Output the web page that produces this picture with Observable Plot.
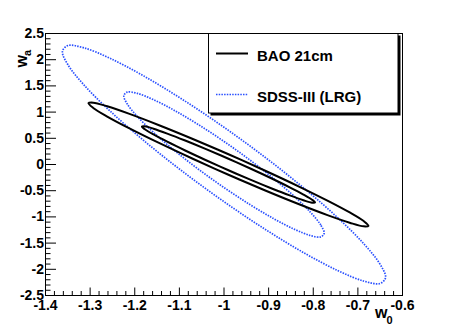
<!DOCTYPE html>
<html><head><meta charset="utf-8">
<script src="https://cdn.jsdelivr.net/npm/d3@7"></script>
<script src="https://cdn.jsdelivr.net/npm/@observablehq/plot@0.6"></script>
<style>
html,body{margin:0;padding:0;background:#fff;}
#chart svg{display:block;}
</style></head><body><div id="chart"></div>
<script>
// Tick values and labels
const xMajor = [-1.4,-1.3,-1.2,-1.1,-1.0,-0.9,-0.8,-0.7,-0.6];
const xTickLabels = ["-1.4","-1.3","-1.2","-1.1","-1","-0.9","-0.8","-0.7","-0.6"];
const yMajor = [2.5,2,1.5,1,0.5,0,-0.5,-1,-1.5,-2,-2.5];
const yTickLabels = ["2.5","2","1.5","1","0.5","0","-0.5","-1","-1.5","-2","-2.5"];
const xTitle = ["w","0"];
const yTitle = ["w","a"];
const seriesNames = ["BAO 21cm","SDSS-III (LRG)"];

// Contours: [w0, wa]
const bao2 = [[-0.6763,-1.170],[-0.6870,-1.0796],[-0.7183,-0.9157],[-0.7682,-0.6894],[-0.8331,-0.4161],[-0.9088,-0.1144],[-0.99,0.195],[-1.0712,0.4912],[-1.1469,0.7539],[-1.2118,0.9652],[-1.2617,1.1107],[-1.2930,1.1806],
[-1.3037,1.170],[-1.2930,1.0796],[-1.2617,0.9157],[-1.2118,0.6894],[-1.1469,0.4161],[-1.0712,0.1144],[-0.99,-0.195],[-0.9088,-0.4912],[-0.8331,-0.7539],[-0.7682,-0.9652],[-0.7183,-1.1107],[-0.6870,-1.1806]];
const bao1 = [[-0.796,-0.725],[-0.8026,-0.6718],[-0.822,-0.5729],[-0.8528,-0.4348],[-0.893,-0.2672],[-0.9398,-0.0814],[-0.99,0.11],[-1.0402,0.2938],[-1.087,0.4578],[-1.1272,0.5904],[-1.158,0.6829],[-1.1774,0.7288],
[-1.184,0.725],[-1.1774,0.6718],[-1.158,0.5729],[-1.1272,0.4348],[-1.087,0.2672],[-1.0402,0.0814],[-0.99,-0.11],[-0.9398,-0.2938],[-0.893,-0.4578],[-0.8528,-0.5904],[-0.822,-0.6829],[-0.8026,-0.7288]];
const sdss1 = [[-0.7756,-1.313],[-0.7832,-1.1543],[-0.8057,-0.9171],[-0.8413,-0.6173],[-0.8878,-0.2755],[-0.9419,0.0852],[-1,0.44],[-1.0581,0.7648],[-1.1122,1.0375],[-1.1587,1.2395],[-1.1943,1.3571],[-1.2168,1.3821],
[-1.2244,1.313],[-1.2168,1.1543],[-1.1943,0.9171],[-1.1587,0.6173],[-1.1122,0.2755],[-1.0581,-0.0852],[-1,-0.44],[-0.9419,-0.7648],[-0.8878,-1.0375],[-0.8413,-1.2395],[-0.8057,-1.3571],[-0.7832,-1.3821]];
const sdss2 = [[-0.638,-2.16],[-0.6503,-1.9026],[-0.6865,-1.5156],[-0.744,-1.0253],[-0.819,-0.4651],[-0.9063,0.1268],[-1,0.71],[-1.0937,1.2448],[-1.181,1.6949],[-1.256,2.0293],[-1.3135,2.2256],[-1.3497,2.27],
[-1.362,2.16],[-1.3497,1.9026],[-1.3135,1.5156],[-1.256,1.0253],[-1.181,0.4651],[-1.0937,-0.1268],[-1,-0.71],[-0.9063,-1.2448],[-0.819,-1.6949],[-0.744,-2.0293],[-0.6865,-2.2256],[-0.6503,-2.27]];

const toRows = (pts, id) => pts.map(([x, y]) => ({x, y, id}));
const blueRows = [...toRows(sdss2, "sdss2"), ...toRows(sdss1, "sdss1")];
const blackRows = [...toRows(bao2, "bao2"), ...toRows(bao1, "bao1")];

const xMinor = d3.range(-1.4, -0.6 + 1e-9, 0.02).filter(v => Math.abs(v*10 - Math.round(v*10)) > 1e-6);
const yMinor = d3.range(-2.5, 2.5 + 1e-9, 0.1).filter(v => Math.abs(v*2 - Math.round(v*2)) > 1e-6);

const W = 457, H = 328, ML = 45, MR = 55, MT = 33, MB = 33;
const FW = W - ML - MR, FH = H - MT - MB;
const font = "Liberation Sans, Arial, Helvetica, sans-serif";
const BLUE = "#2a50ff";
const DOTS = "1.5,1.2";

const chart = Plot.plot({
  width: W, height: H,
  marginLeft: ML, marginRight: MR, marginTop: MT, marginBottom: MB,
  style: {fontFamily: font, background: "white", overflow: "visible"},
  x: {domain: [-1.4, -0.6], axis: null},
  y: {domain: [-2.5, 2.5], axis: null},
  marks: [
    Plot.line(blueRows, {x: "x", y: "y", z: "id", curve: "catmull-rom-closed", stroke: BLUE, strokeWidth: 1.7, strokeDasharray: DOTS, strokeLinecap: "butt"}),
    Plot.line(blackRows, {x: "x", y: "y", z: "id", curve: "catmull-rom-closed", stroke: "black", strokeWidth: 2}),
    Plot.ruleX(xMajor, {x: d => d, insetTop: FH - 7.5, stroke: "black"}),
    Plot.ruleX(xMinor, {x: d => d, insetTop: FH - 4, stroke: "black"}),
    Plot.ruleY(yMajor, {y: d => d, insetRight: FW - 11, stroke: "black"}),
    Plot.ruleY(yMinor, {y: d => d, insetRight: FW - 5.5, stroke: "black"}),
    Plot.frame({stroke: "black", strokeWidth: 1}),
    Plot.text(xMajor, {x: d => d, frameAnchor: "bottom", text: (d, i) => xTickLabels[i], lineAnchor: "top", dy: 5, fontSize: 14, fontWeight: "bold", fill: "black"}),
    Plot.text(yMajor, {y: d => d, frameAnchor: "left", text: (d, i) => yTickLabels[i], textAnchor: "end", dx: -1.5, fontSize: 14, fontWeight: "bold", fill: "black"}),
    Plot.text([xTitle[0]], {frameAnchor: "bottom-right", text: d => d, textAnchor: "start", lineAnchor: "bottom", dx: -27.5, dy: 22, fontSize: 16, fontWeight: "bold", fill: "black"}),
    Plot.text([xTitle[1]], {frameAnchor: "bottom-right", text: d => d, textAnchor: "start", lineAnchor: "bottom", dx: -16, dy: 28, fontSize: 11, fontWeight: "bold", fill: "black"}),
    Plot.text([yTitle[0]], {frameAnchor: "top-left", text: d => d, textAnchor: "start", lineAnchor: "bottom", rotate: -90, dx: -19, dy: 34, fontSize: 16, fontWeight: "bold", fill: "black"}),
    Plot.text([yTitle[1]], {frameAnchor: "top-left", text: d => d, textAnchor: "start", lineAnchor: "bottom", rotate: -90, dx: -14.5, dy: 22.5, fontSize: 11, fontWeight: "bold", fill: "black"})
  ]
});

document.getElementById("chart").appendChild(chart);

// Legend box (ROOT TLegend style with shadow)
const svg = d3.select(chart);
const lg = svg.append("g").attr("text-anchor", "start");
lg.append("rect").attr("x", 210.5).attr("y", 35.5).attr("width", 190).attr("height", 80).attr("fill", "black");
lg.append("rect").attr("x", 208.5).attr("y", 33.5).attr("width", 189.5).attr("height", 79.5).attr("fill", "white").attr("stroke", "black").attr("stroke-width", 1);
lg.append("line").attr("x1", 216).attr("x2", 248).attr("y1", 53.5).attr("y2", 53.5).attr("stroke", "black").attr("stroke-width", 2);
lg.append("line").attr("x1", 216).attr("x2", 248).attr("y1", 94.5).attr("y2", 94.5).attr("stroke", BLUE).attr("stroke-width", 1.3).attr("stroke-dasharray", DOTS);
lg.append("text").attr("x", 257).attr("y", 60.5).attr("text-anchor", "start").attr("font-family", font).attr("font-weight", "bold").attr("font-size", 15).attr("fill", "black").text(seriesNames[0]);
lg.append("text").attr("x", 257).attr("y", 102).attr("text-anchor", "start").attr("font-family", font).attr("font-weight", "bold").attr("font-size", 15).attr("fill", "black").text(seriesNames[1]);
</script>
</body></html>
